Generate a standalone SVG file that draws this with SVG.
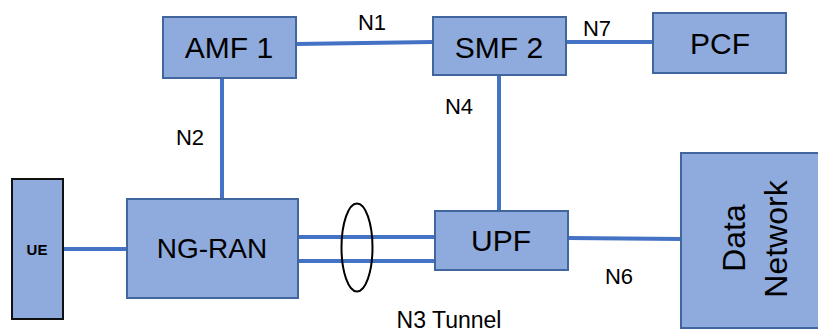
<svg xmlns="http://www.w3.org/2000/svg" width="818" height="333" viewBox="0 0 818 333">
<style>
.box{fill:#8faadc;stroke:#41669e;stroke-width:2}
.ue{fill:#8faadc;stroke:#111;stroke-width:2}
.lbl{font-family:"Liberation Sans",Arial,sans-serif;fill:#000;text-anchor:middle}
.big{font-size:30px}
.sm{font-size:22px}
.ln{stroke:#4472c4;stroke-width:4;fill:none}
</style>
<rect width="818" height="333" fill="#fff"/>
<g id="connectors">
<line class="ln" x1="63" y1="249" x2="127" y2="249"/>
<line class="ln" x1="222" y1="78" x2="222" y2="199"/>
<line class="ln" x1="296" y1="44" x2="433" y2="42"/>
<line class="ln" x1="566" y1="42" x2="653" y2="42"/>
<line class="ln" x1="499" y1="75" x2="499" y2="211"/>
<line class="ln" x1="298" y1="237" x2="435" y2="237"/>
<line class="ln" x1="298" y1="261" x2="435" y2="261"/>
<line class="ln" x1="568" y1="238" x2="681" y2="239"/>
<ellipse cx="357" cy="247.5" rx="15.5" ry="44" fill="none" stroke="#000" stroke-width="2"/>
<text class="lbl sm" x="372" y="30">N1</text>
<text class="lbl sm" x="597" y="36">N7</text>
<text class="lbl sm" x="190" y="145">N2</text>
<text class="lbl sm" x="459" y="114">N4</text>
<text class="lbl sm" x="619" y="284">N6</text>
<text class="lbl" font-size="23" x="449" y="328">N3 Tunnel</text>
</g>
<g id="ue">
<rect class="ue" x="12" y="179" width="51" height="140"/>
<text class="lbl" x="37" y="255" font-size="15" font-weight="bold">UE</text>
</g>
<g id="ngran">
<rect class="box" x="127" y="199" width="171" height="99"/>
<text class="lbl" x="212" y="258" font-size="28">NG-RAN</text>
</g>
<g id="amf1">
<rect class="box" x="163" y="17" width="133" height="61"/>
<text class="lbl big" x="229" y="58">AMF 1</text>
</g>
<g id="smf2">
<rect class="box" x="433" y="17" width="133" height="58"/>
<text class="lbl big" x="499" y="58">SMF 2</text>
</g>
<g id="pcf">
<rect class="box" x="653" y="13" width="133" height="60"/>
<text class="lbl big" x="720" y="54">PCF</text>
</g>
<g id="upf">
<rect class="box" x="435" y="211" width="133" height="59"/>
<text class="lbl big" x="501" y="251">UPF</text>
</g>
<g id="datanetwork">
<rect class="box" x="681" y="153" width="145" height="175"/>
<text class="lbl" font-size="32" transform="translate(745,238) rotate(-90)">Data</text>
<text class="lbl" font-size="32" transform="translate(787,239) rotate(-90)">Network</text>
</g>
</svg>
